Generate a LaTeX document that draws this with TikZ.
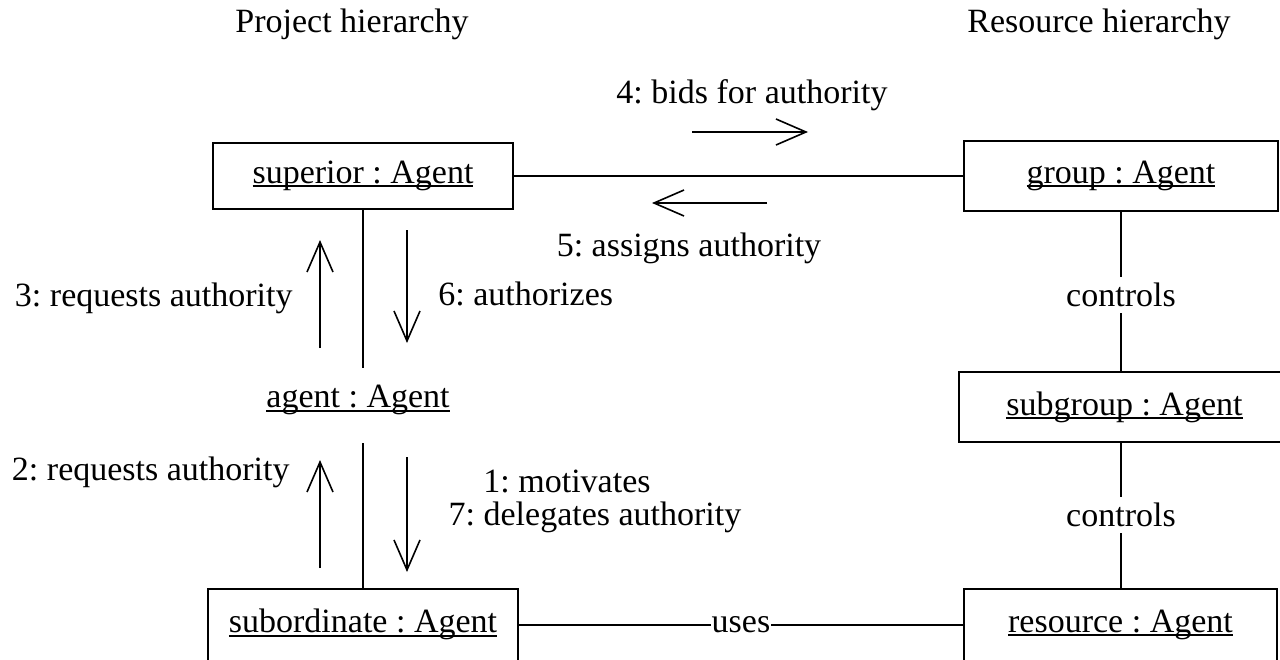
\documentclass[tikz,border=0pt]{standalone}
\usepackage{fontspec}
\setmainfont{Liberation Serif}
\usetikzlibrary{arrows.meta}
\frenchspacing
% underline that sits just under the baseline, crossing descenders
\newcommand\objname[1]{\leavevmode\setbox0\hbox{#1}\rlap{\rule[-2pt]{\wd0}{0.9pt}}\box0}
\begin{document}
\begin{tikzpicture}[x=0.5pt,y=-0.5pt,
  every node/.style={font=\fontsize{17}{20}\selectfont, inner sep=0pt},
  obj/.style={draw, line width=1pt, inner sep=0pt},
  link/.style={line width=1pt},
  msg/.style={line width=1pt, -{Straight Barb[length=15pt,width=13pt,line width=0.8pt]}},
  linklabel/.style={fill=white, inner sep=3pt}]
\clip (0,0) rectangle (1280,659);
\fill[white] (0,0) rectangle (1280,659);

% column headings
\node (hproj) at (352,24) {Project hierarchy};
\node (hres) at (1099,24) {Resource hierarchy};

% objects
\node[obj, minimum width=150pt, minimum height=33pt] (sup) at (363,175.5) {\objname{superior : Agent}};
\node[obj, minimum width=157pt, minimum height=35pt] (grp) at (1121,175.5) {\objname{group : Agent}};
\node[obj, minimum width=165.5pt, minimum height=35pt] (sgrp) at (1124.5,407) {\objname{subgroup : Agent}};
\node[obj, minimum width=155pt, minimum height=36pt] (sub) at (363,624.5) {\objname{subordinate : Agent}};
\node[obj, minimum width=156.5pt, minimum height=36pt] (res) at (1120.5,624.5) {\objname{resource : Agent}};
\node (agent) at (358,400) {\objname{agent : Agent}};

% links
\draw[link] (sup) -- (grp);
\draw[link, shorten >=8.5pt] (sup.south) -- (sup.south |- agent.north);
\draw[link, shorten <=14pt] (sup.south |- agent.south) -- (sub.north);
\draw[link] (grp.south) -- (grp.south |- sgrp.north) node[midway, linklabel, yshift=-2pt] (c1) {controls};
\draw[link] (sgrp.south -| grp.south) -- (res.north -| grp.south) node[midway, linklabel] (c2) {controls};
\draw[link] (sub) -- (res) node[midway, fill=white, inner sep=0.5pt] (uses) {uses};

% messages along superior -- group
\coordinate (m4a) at (692,132); \coordinate (m4b) at (808,132);
\draw[msg] (m4a) -- (m4b);
\node (l4) at (752,95) {4: bids for authority};
\coordinate (m5a) at (767,203); \coordinate (m5b) at (652,203);
\draw[msg] (m5a) -- (m5b);
\node (l5) at (689,248) {5: assigns authority};

% messages along superior -- agent
\coordinate (m3a) at (320,348); \coordinate (m3b) at (320,240);
\draw[msg] (m3a) -- (m3b);
\node[anchor=east] (l3) at (293,298) {3: requests authority};
\coordinate (m6a) at (407,230); \coordinate (m6b) at (407,343);
\draw[msg] (m6a) -- (m6b);
\node[anchor=west] (l6) at (438,294) {6: authorizes};

% messages along agent -- subordinate
\coordinate (m2a) at (320,568); \coordinate (m2b) at (320,460);
\draw[msg] (m2a) -- (m2b);
\node[anchor=east] (l2) at (290,472) {2: requests authority};
\coordinate (m7a) at (407,457); \coordinate (m7b) at (407,572);
\draw[msg] (m7a) -- (m7b);
\node (l1) at (567,481) {1: motivates};
\node (l7) at (595,517) {7: delegates authority};
\end{tikzpicture}
\end{document}
